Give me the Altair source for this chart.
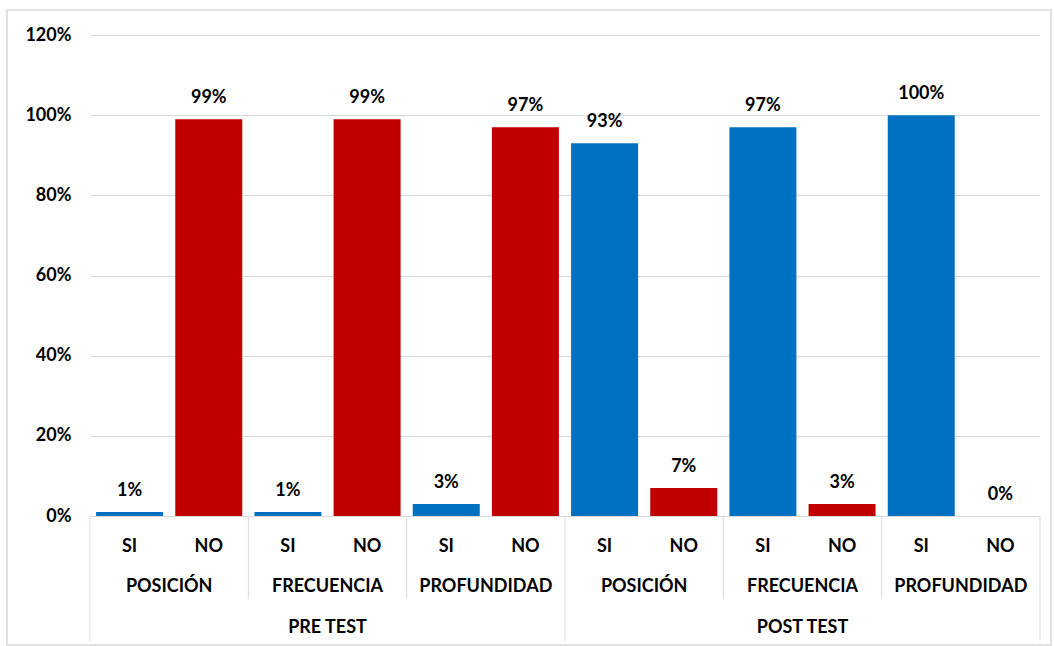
import altair as alt
import pandas as pd

tests = ["PRE TEST"] * 6 + ["POST TEST"] * 6
categories = ["POSICIÓN", "POSICIÓN", "FRECUENCIA", "FRECUENCIA", "PROFUNDIDAD", "PROFUNDIDAD"] * 2
answers = ["SI", "NO"] * 6
values = [1, 99, 1, 99, 3, 97, 93, 7, 97, 3, 100, 0]

FONT = "Lato"
FS = 18
BLUE = "#0070C0"
RED = "#C00000"
GRID = "#D9D9D9"

df = pd.DataFrame({
    "test": tests,
    "category": categories,
    "answer": answers,
    "value": [v / 100 for v in values],
})
df["idx"] = range(len(df))
df["pos"] = df["idx"] + 0.5
df["label"] = [f"{v}%" for v in values]

# group (category) centres and test centres
grp = df.groupby(df["idx"] // 2).agg(category=("category", "first"), pos=("pos", "mean")).reset_index(drop=True)
tst = df.groupby("test", sort=False).agg(pos=("pos", "mean")).reset_index()

# separator boundaries
bounds = pd.DataFrame({"b": list(range(0, len(df) + 1, 2))})
bounds["major"] = bounds["b"] % 6 == 0

xscale = alt.Scale(domain=[0, len(df)], nice=False, zero=False, padding=0)
xq = alt.X("pos:Q", scale=xscale, axis=None)

base = alt.Chart(df)

bars = base.mark_bar(size=67).encode(
    x=alt.X("pos:Q", scale=xscale,
            axis=alt.Axis(labels=False, ticks=False, grid=False, domain=True,
                          domainColor=GRID, title=None)),
    y=alt.Y("value:Q", scale=alt.Scale(domain=[0, 1.2], nice=False),
            axis=alt.Axis(values=[0, 0.2, 0.4, 0.6, 0.8, 1.0, 1.2], format=".0%",
                          title=None, domain=False, ticks=False, gridColor=GRID,
                          labelFont=FONT, labelFontSize=18, labelFontWeight="bold",
                          labelColor="#000000", labelPadding=19)),
    color=alt.Color("answer:N", scale=alt.Scale(domain=["SI", "NO"], range=[BLUE, RED]), legend=None),
)

labels = base.mark_text(dy=-21, baseline="middle", font=FONT, fontSize=FS, fontWeight="bold", color="#000000").encode(
    x=xq, y=alt.Y("value:Q"), text="label:N"
)

ans_text = base.mark_text(font=FONT, fontSize=FS, fontWeight="bold", color="#000000", baseline="middle").encode(
    x=xq, y=alt.value(512), text="answer:N"
)

cat_text = alt.Chart(grp).mark_text(font=FONT, fontSize=FS, fontWeight="bold", color="#000000", baseline="middle").encode(
    x=xq, y=alt.value(552), text="category:N"
)

test_text = alt.Chart(tst).mark_text(font=FONT, fontSize=FS, fontWeight="bold", color="#000000", baseline="middle").encode(
    x=xq, y=alt.value(593), text="test:N"
)

minor_rules = alt.Chart(bounds).transform_filter("!datum.major").mark_rule(color=GRID, strokeWidth=1).encode(
    x=alt.X("b:Q", scale=xscale, axis=None), y=alt.value(481), y2=alt.value(564)
)
major_rules = alt.Chart(bounds).transform_filter("datum.major").mark_rule(color=GRID, strokeWidth=1).encode(
    x=alt.X("b:Q", scale=xscale, axis=None), y=alt.value(481), y2=alt.value(606)
)

border = alt.Chart(pd.DataFrame({"a": [0]})).mark_rect(fill=None, stroke=GRID, strokeWidth=1.5).encode(
    x=alt.value(-83), x2=alt.value(961), y=alt.value(-25), y2=alt.value(610)
)

chart = alt.layer(border, bars, labels, ans_text, cat_text, test_text, minor_rules, major_rules).properties(
    width=950, height=481,
    autosize=alt.AutoSizeParams(type="none"),
    padding={"left": 90, "top": 35, "right": 14, "bottom": 130},
    background="white",
).configure_view(stroke=None)

chart.save("out.html", embed_options={"renderer": "svg", "actions": False})
